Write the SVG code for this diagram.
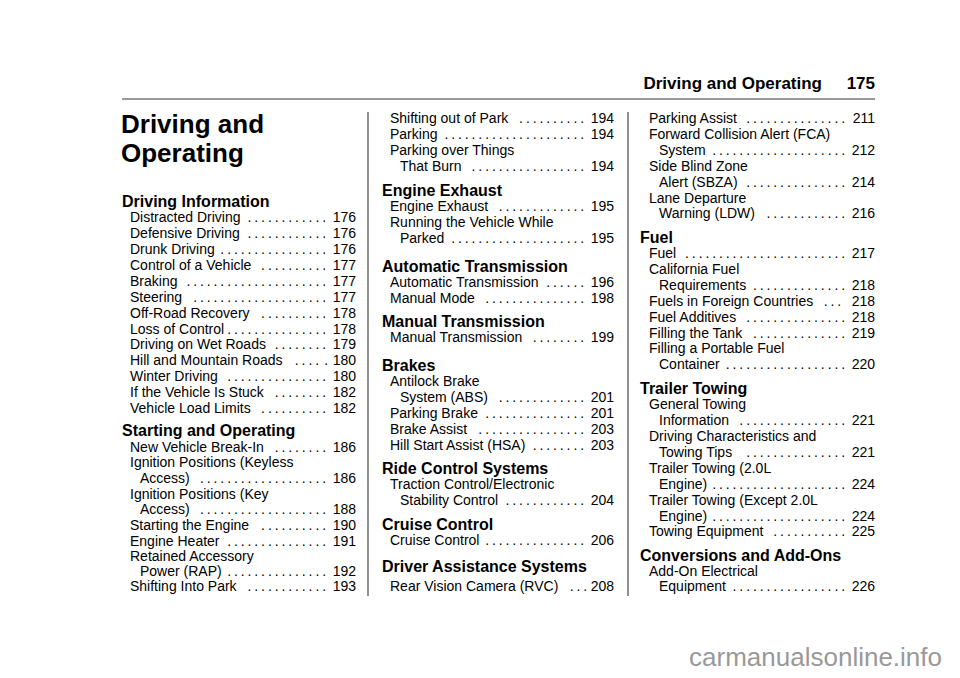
<svg xmlns="http://www.w3.org/2000/svg" width="960" height="678" viewBox="0 0 960 678">
<style>
text{font-family:"Liberation Sans",Arial,sans-serif;fill:#000}
.e{font-size:14px}
.h{font-size:16px;font-weight:bold}
.n{font-size:14px;text-anchor:end}
.d{font-size:14px;text-anchor:end;letter-spacing:2.9px}
</style>
<rect width="960" height="678" fill="#fff"/>
<g id="header">
<text x="822" y="89" style="font-size:17px;font-weight:bold;text-anchor:end">Driving and Operating</text>
<text x="875" y="89" style="font-size:17px;font-weight:bold;text-anchor:end">175</text>
<line x1="122" y1="99" x2="875" y2="99" stroke="#777" stroke-width="1.5"/>
</g>
<g id="dividers" stroke="#555" stroke-width="1.3">
<line x1="368" y1="112" x2="368" y2="596"/>
<line x1="628" y1="112" x2="628" y2="596"/>
</g>
<g id="title">
<text x="121" y="133" style="font-size:26px;font-weight:bold">Driving and</text>
<text x="121" y="162" style="font-size:26px;font-weight:bold">Operating</text>
</g>
<g id="col1">
<text class="h" x="122" y="207">Driving Information</text>
<text class="e" x="130" y="222">Distracted Driving</text><text class="d" x="329" y="222">............</text><text class="n" x="356" y="222">176</text>
<text class="e" x="130" y="238">Defensive Driving</text><text class="d" x="329" y="238">............</text><text class="n" x="356" y="238">176</text>
<text class="e" x="130" y="254">Drunk Driving</text><text class="d" x="329" y="254">................</text><text class="n" x="356" y="254">176</text>
<text class="e" x="130" y="270">Control of a Vehicle</text><text class="d" x="329" y="270">..........</text><text class="n" x="356" y="270">177</text>
<text class="e" x="130" y="286">Braking</text><text class="d" x="329" y="286">.....................</text><text class="n" x="356" y="286">177</text>
<text class="e" x="130" y="302">Steering</text><text class="d" x="329" y="302">....................</text><text class="n" x="356" y="302">177</text>
<text class="e" x="130" y="318">Off-Road Recovery</text><text class="d" x="329" y="318">..........</text><text class="n" x="356" y="318">178</text>
<text class="e" x="130" y="334">Loss of Control</text><text class="d" x="329" y="334">...............</text><text class="n" x="356" y="334">178</text>
<text class="e" x="130" y="349">Driving on Wet Roads</text><text class="d" x="329" y="349">........</text><text class="n" x="356" y="349">179</text>
<text class="e" x="130" y="365">Hill and Mountain Roads</text><text class="d" x="322" y="365">....</text><text class="d" x="331" y="365">.</text><text class="n" x="356" y="365">180</text>
<text class="e" x="130" y="381">Winter Driving</text><text class="d" x="329" y="381">...............</text><text class="n" x="356" y="381">180</text>
<text class="e" x="130" y="397">If the Vehicle Is Stuck</text><text class="d" x="329" y="397">........</text><text class="n" x="356" y="397">182</text>
<text class="e" x="130" y="413">Vehicle Load Limits</text><text class="d" x="329" y="413">..........</text><text class="n" x="356" y="413">182</text>
<text class="h" x="122" y="436">Starting and Operating</text>
<text class="e" x="130" y="452">New Vehicle Break-In</text><text class="d" x="329" y="452">........</text><text class="n" x="356" y="452">186</text>
<text class="e" x="130" y="467">Ignition Positions (Keyless</text>
<text class="e" x="140" y="483">Access)</text><text class="d" x="329" y="483">...................</text><text class="n" x="356" y="483">186</text>
<text class="e" x="130" y="499">Ignition Positions (Key</text>
<text class="e" x="140" y="514">Access)</text><text class="d" x="329" y="514">...................</text><text class="n" x="356" y="514">188</text>
<text class="e" x="130" y="530">Starting the Engine</text><text class="d" x="329" y="530">..........</text><text class="n" x="356" y="530">190</text>
<text class="e" x="130" y="546">Engine Heater</text><text class="d" x="329" y="546">...............</text><text class="n" x="356" y="546">191</text>
<text class="e" x="130" y="561">Retained Accessory</text>
<text class="e" x="140" y="576">Power (RAP)</text><text class="d" x="329" y="576">...............</text><text class="n" x="356" y="576">192</text>
<text class="e" x="130" y="591">Shifting Into Park</text><text class="d" x="329" y="591">............</text><text class="n" x="356" y="591">193</text>
</g>
<g id="col2">
<text class="e" x="390" y="123">Shifting out of Park</text><text class="d" x="587" y="123">..........</text><text class="n" x="614" y="123">194</text>
<text class="e" x="390" y="139">Parking</text><text class="d" x="587" y="139">.....................</text><text class="n" x="614" y="139">194</text>
<text class="e" x="390" y="155">Parking over Things</text>
<text class="e" x="400" y="171">That Burn</text><text class="d" x="587" y="171">.................</text><text class="n" x="614" y="171">194</text>
<text class="h" x="382" y="196">Engine Exhaust</text>
<text class="e" x="390" y="211">Engine Exhaust</text><text class="d" x="587" y="211">.............</text><text class="n" x="614" y="211">195</text>
<text class="e" x="390" y="227">Running the Vehicle While</text>
<text class="e" x="400" y="243">Parked</text><text class="d" x="587" y="243">....................</text><text class="n" x="614" y="243">195</text>
<text class="h" x="382" y="272">Automatic Transmission</text>
<text class="e" x="390" y="287">Automatic Transmission</text><text class="d" x="587" y="287">......</text><text class="n" x="614" y="287">196</text>
<text class="e" x="390" y="303">Manual Mode</text><text class="d" x="587" y="303">...............</text><text class="n" x="614" y="303">198</text>
<text class="h" x="382" y="327">Manual Transmission</text>
<text class="e" x="390" y="342">Manual Transmission</text><text class="d" x="587" y="342">........</text><text class="n" x="614" y="342">199</text>
<text class="h" x="382" y="371">Brakes</text>
<text class="e" x="390" y="386">Antilock Brake</text>
<text class="e" x="400" y="402">System (ABS)</text><text class="d" x="587" y="402">.............</text><text class="n" x="614" y="402">201</text>
<text class="e" x="390" y="418">Parking Brake</text><text class="d" x="587" y="418">...............</text><text class="n" x="614" y="418">201</text>
<text class="e" x="390" y="434">Brake Assist</text><text class="d" x="587" y="434">................</text><text class="n" x="614" y="434">203</text>
<text class="e" x="390" y="450">Hill Start Assist (HSA)</text><text class="d" x="587" y="450">........</text><text class="n" x="614" y="450">203</text>
<text class="h" x="382" y="474">Ride Control Systems</text>
<text class="e" x="390" y="489">Traction Control/Electronic</text>
<text class="e" x="400" y="505">Stability Control</text><text class="d" x="587" y="505">............</text><text class="n" x="614" y="505">204</text>
<text class="h" x="382" y="530">Cruise Control</text>
<text class="e" x="390" y="545">Cruise Control</text><text class="d" x="587" y="545">...............</text><text class="n" x="614" y="545">206</text>
<text class="h" x="382" y="572">Driver Assistance Systems</text>
<text class="e" x="390" y="591">Rear Vision Camera (RVC)</text><text class="d" x="590" y="591">...</text><text class="n" x="614" y="591">208</text>
</g>
<g id="col3">
<text class="e" x="649" y="123">Parking Assist</text><text class="d" x="848" y="123">...............</text><text class="n" x="875" y="123">211</text>
<text class="e" x="649" y="139">Forward Collision Alert (FCA)</text>
<text class="e" x="659" y="155">System</text><text class="d" x="848" y="155">....................</text><text class="n" x="875" y="155">212</text>
<text class="e" x="649" y="171">Side Blind Zone</text>
<text class="e" x="659" y="187">Alert (SBZA)</text><text class="d" x="848" y="187">...............</text><text class="n" x="875" y="187">214</text>
<text class="e" x="649" y="203">Lane Departure</text>
<text class="e" x="659" y="218">Warning (LDW)</text><text class="d" x="848" y="218">............</text><text class="n" x="875" y="218">216</text>
<text class="h" x="640" y="243">Fuel</text>
<text class="e" x="649" y="258">Fuel</text><text class="d" x="848" y="258">........................</text><text class="n" x="875" y="258">217</text>
<text class="e" x="649" y="274">California Fuel</text>
<text class="e" x="659" y="290">Requirements</text><text class="d" x="848" y="290">..............</text><text class="n" x="875" y="290">218</text>
<text class="e" x="649" y="306">Fuels in Foreign Countries</text><text class="d" x="844" y="306">...</text><text class="n" x="875" y="306">218</text>
<text class="e" x="649" y="322">Fuel Additives</text><text class="d" x="848" y="322">...............</text><text class="n" x="875" y="322">218</text>
<text class="e" x="649" y="338">Filling the Tank</text><text class="d" x="848" y="338">..............</text><text class="n" x="875" y="338">219</text>
<text class="e" x="649" y="353">Filling a Portable Fuel</text>
<text class="e" x="659" y="369">Container</text><text class="d" x="848" y="369">..................</text><text class="n" x="875" y="369">220</text>
<text class="h" x="640" y="394">Trailer Towing</text>
<text class="e" x="649" y="409">General Towing</text>
<text class="e" x="659" y="425">Information</text><text class="d" x="848" y="425">................</text><text class="n" x="875" y="425">221</text>
<text class="e" x="649" y="441">Driving Characteristics and</text>
<text class="e" x="659" y="457">Towing Tips</text><text class="d" x="848" y="457">...............</text><text class="n" x="875" y="457">221</text>
<text class="e" x="649" y="473">Trailer Towing (2.0L</text>
<text class="e" x="659" y="489">Engine)</text><text class="d" x="848" y="489">....................</text><text class="n" x="875" y="489">224</text>
<text class="e" x="649" y="505">Trailer Towing (Except 2.0L</text>
<text class="e" x="659" y="521">Engine)</text><text class="d" x="848" y="521">....................</text><text class="n" x="875" y="521">224</text>
<text class="e" x="649" y="536">Towing Equipment</text><text class="d" x="848" y="536">...........</text><text class="n" x="875" y="536">225</text>
<text class="h" x="640" y="561">Conversions and Add-Ons</text>
<text class="e" x="649" y="576">Add-On Electrical</text>
<text class="e" x="659" y="591">Equipment</text><text class="d" x="848" y="591">.................</text><text class="n" x="875" y="591">226</text>
</g>
<text id="watermark" x="942" y="666" style="font-size:26px;fill:#999;text-anchor:end">carmanualsonline.info</text>
</svg>
